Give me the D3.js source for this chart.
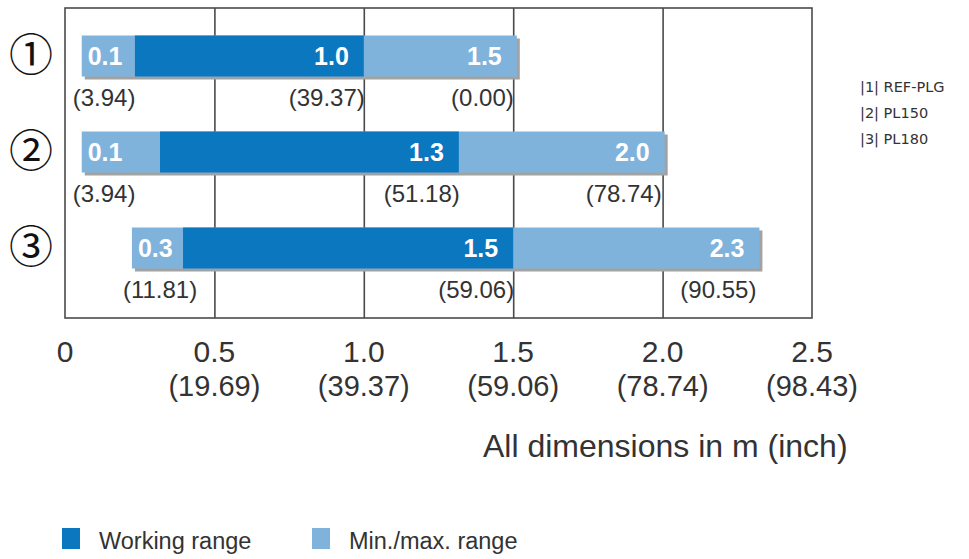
<!DOCTYPE html>
<html>
<head>
<meta charset="utf-8">
<script src="https://cdn.jsdelivr.net/npm/d3@7"></script>
<style>
  body { margin: 0; background: #fff; }
  svg { display: block; }
</style>
</head>
<body>
<div id="chart"></div>
<script>
'use strict';

// data (drawn extents, in m)
const rows = ["1", "2", "3"];
const rowMarks = ["\u2460", "\u2461", "\u2462"];
const minStart = [0.056, 0.056, 0.224];
const workStart = [0.234, 0.318, 0.395];
const workEnd = [1.0, 1.318, 1.5];
const maxEnd = [1.512, 2.007, 2.324];

// printed labels
const minLabel = ["0.1", "0.1", "0.3"];
const workLabel = ["1.0", "1.3", "1.5"];
const maxLabel = ["1.5", "2.0", "2.3"];
const minInch = ["(3.94)", "(3.94)", "(11.81)"];
const workInch = ["(39.37)", "(51.18)", "(59.06)"];
const maxInch = ["(0.00)", "(78.74)", "(90.55)"];

const ticks = [0, 0.5, 1.0, 1.5, 2.0, 2.5];
const tickLabels = ["0", "0.5", "1.0", "1.5", "2.0", "2.5"];
const tickInch = ["", "(19.69)", "(39.37)", "(59.06)", "(78.74)", "(98.43)"];
const models = ["|1| REF-PLG", "|2| PL150", "|3| PL180"];
const legendNames = ["Working range", "Min./max. range"];

(function () {
    const width = 969, height = 559;
    const dark = "#0a77bf", light = "#80b3dc", shadow = "#a2a2a2", ink = "#333";
    const top = 8, bottom = 318, barH = 41;

    const svg = d3.select("#chart").append("svg")
        .attr("width", width)
        .attr("height", height)
        .style("font-family", "'Liberation Sans', Arial, sans-serif");

    const x = d3.scaleLinear().domain([0, 2.5]).range([65, 812]);
    const y = d3.scalePoint().domain(rows).range([56, 248]);

    // frame + gridlines
    svg.append("rect")
        .attr("x", x(0)).attr("y", top)
        .attr("width", x(2.5) - x(0)).attr("height", bottom - top)
        .attr("fill", "none").attr("stroke", "#4a4a4a").attr("stroke-width", 1.6);

    const grid = svg.append("g")
        .attr("transform", "translate(0," + bottom + ")")
        .call(d3.axisBottom(x).tickValues(ticks.slice(1, -1)).tickSize(-(bottom - top)).tickFormat(""));
    grid.select(".domain").remove();
    grid.selectAll("line").attr("stroke", "#4a4a4a").attr("stroke-width", 1.6);

    const data = rows.map((r, i) => ({
        row: r, mark: rowMarks[i],
        min: minStart[i], ws: workStart[i], we: workEnd[i], max: maxEnd[i],
        minL: minLabel[i], workL: workLabel[i], maxL: maxLabel[i],
        minI: minInch[i], workI: workInch[i], maxI: maxInch[i]
    }));

    const row = svg.selectAll(".row")
        .data(data)
        .enter()
        .append("g")
            .attr("class", "row");

    row.append("rect")
        .attr("x", d => x(d.min) + 3)
        .attr("y", d => y(d.row) - barH / 2 + 3)
        .attr("width", d => x(d.max) - x(d.min))
        .attr("height", barH)
        .attr("fill", shadow);

    row.append("rect")
        .attr("x", d => x(d.min))
        .attr("y", d => y(d.row) - barH / 2)
        .attr("width", d => x(d.max) - x(d.min))
        .attr("height", barH)
        .attr("fill", light);

    row.append("rect")
        .attr("x", d => x(d.ws))
        .attr("y", d => y(d.row) - barH / 2)
        .attr("width", d => x(d.we) - x(d.ws))
        .attr("height", barH)
        .attr("fill", dark);

    // values in bars
    const inBar = (sel) => sel
        .attr("y", d => y(d.row) + 9)
        .attr("fill", "#fff")
        .attr("font-size", 25)
        .attr("font-weight", "bold");
    row.append("text").call(inBar)
        .attr("x", d => x(d.min) + 6)
        .text(d => d.minL);
    row.append("text").call(inBar)
        .attr("x", d => x(d.we) - 15)
        .attr("text-anchor", "end")
        .text(d => d.workL);
    row.append("text").call(inBar)
        .attr("x", d => x(d.max) - 15)
        .attr("text-anchor", "end")
        .text(d => d.maxL);

    // inch values under bars
    const under = (sel) => sel
        .attr("y", d => y(d.row) + 50)
        .attr("fill", ink)
        .attr("font-size", 24);
    row.append("text").call(under)
        .attr("x", d => x(d.min) - 9)
        .text(d => d.minI);
    row.append("text").call(under)
        .attr("x", d => x(d.we) + 1)
        .attr("text-anchor", "end")
        .text(d => d.workI);
    row.append("text").call(under)
        .attr("x", d => x(d.max) - 3)
        .attr("text-anchor", "end")
        .text(d => d.maxI);

    // circled row numbers
    row.append("text")
        .attr("x", 31)
        .attr("y", d => y(d.row) + 15)
        .attr("text-anchor", "middle")
        .attr("font-family", "'Noto Sans CJK JP', 'DejaVu Sans', sans-serif")
        .attr("font-size", 44)
        .attr("fill", "#111")
        .text(d => d.mark);

    // x axis labels
    const tl = svg.selectAll(".tick-label")
        .data(ticks)
        .enter()
        .append("g")
            .attr("class", "tick-label")
            .attr("transform", d => "translate(" + x(d) + ",0)");
    tl.append("text")
        .attr("y", 362)
        .attr("text-anchor", "middle")
        .attr("font-size", 30)
        .attr("fill", ink)
        .text((d, i) => tickLabels[i]);
    tl.append("text")
        .attr("y", 396)
        .attr("text-anchor", "middle")
        .attr("font-size", 29)
        .attr("fill", ink)
        .text((d, i) => tickInch[i]);

    svg.append("text")
        .attr("x", 483).attr("y", 457)
        .attr("font-size", 32)
        .attr("fill", ink)
        .text("All dimensions in m (inch)");

    // model names on the right
    svg.selectAll(".model")
        .data(models)
        .enter()
        .append("text")
            .attr("class", "model")
            .attr("x", 860)
            .attr("y", (d, i) => 92 + i * 26)
            .attr("font-family", "'DejaVu Sans', Verdana, sans-serif")
            .attr("font-size", 14.5)
            .attr("fill", ink)
            .text(d => d);

    // legend
    const lg = svg.selectAll(".legend")
        .data(legendNames)
        .enter()
        .append("g")
            .attr("class", "legend")
            .attr("transform", (d, i) => "translate(" + [62, 312][i] + ",528)");
    lg.append("rect")
        .attr("width", 18).attr("height", 21)
        .attr("fill", (d, i) => i === 0 ? dark : light);
    lg.append("text")
        .attr("x", 37).attr("y", 21)
        .attr("font-size", 23.5)
        .attr("fill", ink)
        .text(d => d);
})();
</script>
</body>
</html>
